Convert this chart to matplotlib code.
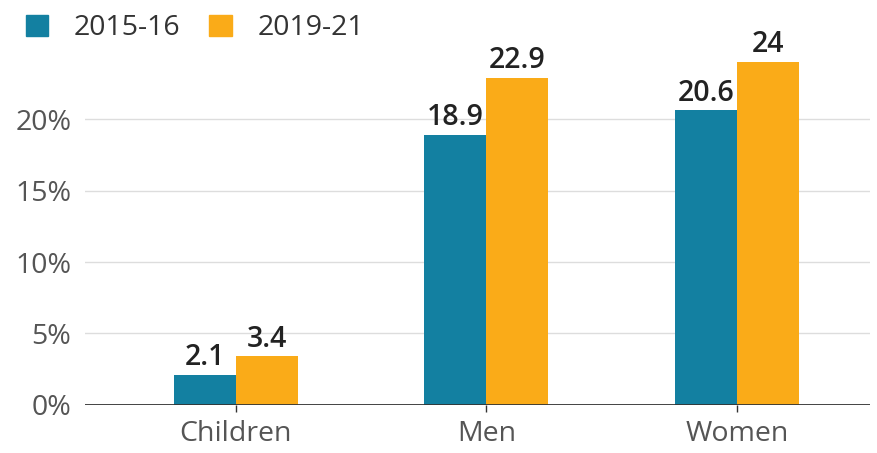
import numpy as np
import matplotlib.pyplot as plt
from matplotlib.patches import Patch

plt.rcParams['font.family'] = ['Open Sans', 'DejaVu Sans']

categories = ['Children', 'Men', 'Women']
series_names = ['2015-16', '2019-21']
values_2015 = [2.1, 18.9, 20.6]
values_2019 = [3.4, 22.9, 24]
yticks = [0, 5, 10, 15, 20]
colors = ['#1380A1', '#FAAB18']

fig = plt.figure(figsize=(8.78, 4.53), dpi=100)
ax = fig.add_axes([0.097, 0.106, 0.894, 0.789])

x = np.arange(len(categories))
w = 0.247
b1 = ax.bar(x - w / 2, values_2015, w, color=colors[0], zorder=3)
b2 = ax.bar(x + w / 2, values_2019, w, color=colors[1], zorder=3)

for bars, vals in [(b1, values_2015), (b2, values_2019)]:
    for rect, v in zip(bars, vals):
        ax.annotate(f'{v:g}', (rect.get_x() + rect.get_width() / 2, v),
                    xytext=(0, 2), textcoords='offset points',
                    ha='center', va='bottom', fontsize=20.5, fontweight='semibold',
                    color='#222222')

ax.set_xlim(-0.6, 2.53)
ax.set_ylim(0, 25)
ax.set_yticks(yticks)
ax.set_yticklabels([f'{t}%' for t in yticks])
ax.set_xticks(x)
ax.set_xticklabels(categories)

ax.grid(axis='y', color='#dddddd', linewidth=1, zorder=0)
ax.axhline(0, color='#333333', linewidth=2, zorder=4)
for s in ax.spines.values():
    s.set_visible(False)
ax.tick_params(axis='y', length=0, pad=10, labelsize=20.5, labelcolor='#555555')
ax.tick_params(axis='x', length=5, width=1, color='#333333', pad=6,
               labelsize=20.5, labelcolor='#555555')

handles = [Patch(color=c) for c in colors]
fig.legend(handles, series_names, loc='upper left', bbox_to_anchor=(0.0, 1.025),
           ncol=2, frameon=False, fontsize=20.5, handlelength=0.8, handleheight=0.8,
           handletextpad=0.9, columnspacing=1.0, labelcolor='#333333')

fig.savefig('out.png', dpi=100, facecolor='white')
